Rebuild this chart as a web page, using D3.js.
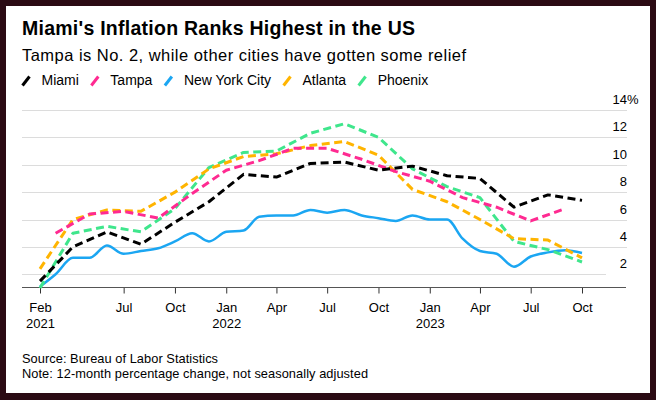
<!DOCTYPE html>
<html lang="en">
<head>
<meta charset="UTF-8">
<title>Miami's Inflation Ranks Highest in the US</title>
<script src="https://cdn.jsdelivr.net/npm/d3@7"></script>
<style>
  body { margin: 0; background: #2b0b14; }
  svg { display: block; font-family: "Liberation Sans", Arial, Helvetica, sans-serif; }
</style>
</head>
<body>
<script>
// bimonthly cities, even months from Feb 2021
var evenMonths = ["2021-02","2021-04","2021-06","2021-08","2021-10","2021-12",
                  "2022-02","2022-04","2022-06","2022-08","2022-10","2022-12",
                  "2023-02","2023-04","2023-06","2023-08","2023-10"];
// Tampa reports in odd months
var oddMonths = ["2021-03","2021-05","2021-07","2021-09","2021-11",
                 "2022-01","2022-03","2022-05","2022-07","2022-09","2022-11",
                 "2023-01","2023-03","2023-05","2023-07","2023-09"];
// New York monthly, Feb 2021 .. Oct 2023
var nycMonths = ["2021-02","2021-03","2021-04","2021-05","2021-06","2021-07","2021-08","2021-09","2021-10","2021-11","2021-12",
                 "2022-01","2022-02","2022-03","2022-04","2022-05","2022-06","2022-07","2022-08","2022-09","2022-10","2022-11","2022-12",
                 "2023-01","2023-02","2023-03","2023-04","2023-05","2023-06","2023-07","2023-08","2023-09","2023-10"];

var miami   = [1.5, 4.0, 5.1, 4.2, 5.8, 7.3, 9.3, 9.1, 10.1, 10.2, 9.6, 9.9, 9.2, 9.0, 6.9, 7.8, 7.4];
var tampa   = [5.0, 6.4, 6.6, 6.1, 7.9, 9.6, 10.3, 11.2, 11.2, 10.4, 9.5, 8.8, 7.6, 6.9, 5.9, 6.8];
var nyc     = [1.1, 2.0, 3.2, 3.2, 4.1, 3.5, 3.7, 3.9, 4.4, 5.0, 4.4,
               5.1, 5.2, 6.2, 6.3, 6.3, 6.7, 6.5, 6.7, 6.3, 6.1, 5.9, 6.3,
               6.0, 6.0, 4.6, 3.7, 3.5, 2.55, 3.3, 3.6, 3.75, 3.55];
var atlanta = [2.4, 6.0, 6.7, 6.6, 8.0, 9.7, 10.6, 10.8, 11.4, 11.7, 10.7, 8.2, 7.3, 6.0, 4.6, 4.5, 3.2];
var phoenix = [1.0, 5.0, 5.5, 5.1, 6.8, 9.8, 10.9, 11.0, 12.3, 13.0, 12.0, 9.7, 8.4, 7.6, 4.4, 3.8, 2.9];

var xTicks = ["2021-02","2021-07","2021-10","2022-01","2022-04","2022-07","2022-10","2023-01","2023-04","2023-07","2023-10"];
var yTicks = [2, 4, 6, 8, 10, 12, 14];

var width = 656, height = 400;
var parse = d3.timeParse("%Y-%m");

var series = [
  {name: "New York City", color: "#1ba6f2", months: nycMonths, values: nyc, dash: null},
  {name: "Phoenix", color: "#3fe68c", months: evenMonths, values: phoenix, dash: "8,4.5"},
  {name: "Atlanta", color: "#ffb400", months: evenMonths, values: atlanta, dash: "8,4.5"},
  {name: "Tampa", color: "#ff2a91", months: oddMonths, values: tampa, dash: "8,4.5"},
  {name: "Miami", color: "#000000", months: evenMonths, values: miami, dash: "8,4.5"}
];
var legendOrder = ["Miami", "Tampa", "New York City", "Atlanta", "Phoenix"];

var svg = d3.select("body").append("svg")
  .attr("width", width).attr("height", height);

svg.append("rect")
  .attr("x", 6).attr("y", 6)
  .attr("width", 644).attr("height", 387)
  .attr("fill", "#ffffff");

var x = d3.scaleTime()
  .domain([parse("2021-02"), parse("2023-10")])
  .range([40, 582]);
var y = d3.scaleLinear()
  .domain([1.05, 14])
  .range([287.3, 110]);

// title block
svg.append("text")
  .attr("x", 22).attr("y", 34.5)
  .attr("font-size", 19.5).attr("font-weight", "bold").attr("fill", "#000")
  .attr("textLength", 393).attr("lengthAdjust", "spacing")
  .text("Miami's Inflation Ranks Highest in the US");
svg.append("text")
  .attr("x", 22).attr("y", 61)
  .attr("font-size", 16.5).attr("fill", "#000")
  .attr("textLength", 444).attr("lengthAdjust", "spacing")
  .text("Tampa is No. 2, while other cities have gotten some relief");

// legend
var lx = 22;
legendOrder.forEach(function(name) {
  var s = series.find(function(d) { return d.name === name; });
  svg.append("line")
    .attr("x1", lx + 0.5).attr("y1", 85.5)
    .attr("x2", lx + 7.5).attr("y2", 76.5)
    .attr("stroke", s.color).attr("stroke-width", 3);
  var t = svg.append("text")
    .attr("x", lx + 19.5).attr("y", 85)
    .attr("font-size", 14).attr("fill", "#000")
    .text(name);
  lx = lx + 19.5 + t.node().getComputedTextLength() + 12;
});

// gridlines and y labels
var grid = svg.append("g");
grid.selectAll("line").data(yTicks).enter().append("line")
  .attr("x1", 22)
  .attr("x2", function(d) { return d === 2 ? 606 : 627; })
  .attr("y1", function(d) { return Math.round(y(d)) + 0.5; })
  .attr("y2", function(d) { return Math.round(y(d)) + 0.5; })
  .attr("stroke", "#dcdcdc").attr("stroke-width", 1);

grid.selectAll("text").data(yTicks).enter().append("text")
  .attr("x", 627)
  .attr("y", function(d) { return y(d) - 6; })
  .attr("text-anchor", "end")
  .attr("font-size", 13).attr("fill", "#000")
  .text(function(d) { return d; })
  .filter(function(d) { return d === 14; })
  .append("tspan").text("%");
// pull the percent sign out past the column edge
grid.selectAll("text").filter(function(d) { return d === 14; })
  .attr("text-anchor", "start")
  .attr("x", function() { return 627 - this.firstChild.nodeValue.length * 7.23; });

// x axis
var xAxis = d3.axisBottom(x)
  .tickValues(xTicks.map(parse))
  .tickSize(6)
  .tickSizeOuter(0)
  .tickFormat(d3.timeFormat("%b"));

var gx = svg.append("g")
  .attr("transform", "translate(0,287.5)")
  .call(xAxis);
gx.select(".domain").remove();
gx.selectAll(".tick line").attr("stroke", "#333");
gx.selectAll(".tick text")
  .attr("font-size", 13).attr("fill", "#000")
  .attr("font-family", "'Liberation Sans', Arial, sans-serif")
  .attr("dy", 0).attr("y", 24);
gx.selectAll(".tick")
  .filter(function(d) { return d.getMonth() === 0 || +d === +parse("2021-02"); })
  .append("text")
  .attr("y", 40.5).attr("fill", "#000")
  .attr("font-size", 13).attr("text-anchor", "middle")
  .attr("font-family", "'Liberation Sans', Arial, sans-serif")
  .text(function(d) { return d.getFullYear(); });

svg.append("line")
  .attr("x1", 22).attr("x2", 626)
  .attr("y1", 287.5).attr("y2", 287.5)
  .attr("stroke", "#555").attr("stroke-width", 1);

// lines
var line = d3.line()
  .x(function(d) { return x(d.date); })
  .y(function(d) { return y(d.value); });

series.forEach(function(s) {
  var pts = s.months.map(function(m, i) { return {date: parse(m), value: s.values[i]}; });
  svg.append("path")
    .datum(pts)
    .attr("fill", "none")
    .attr("stroke", s.color)
    .attr("stroke-width", s.dash ? 3 : 2.5)
    .attr("stroke-linejoin", "round")
    .attr("stroke-dasharray", s.dash)
    .attr("d", line.curve(s.dash ? d3.curveLinear : d3.curveMonotoneX));
});

// footnotes
svg.append("text")
  .attr("x", 22).attr("y", 363)
  .attr("font-size", 12.8).attr("fill", "#000")
  .attr("textLength", 196).attr("lengthAdjust", "spacing")
  .text("Source: Bureau of Labor Statistics");
svg.append("text")
  .attr("x", 22).attr("y", 377.5)
  .attr("font-size", 12.8).attr("fill", "#000")
  .attr("textLength", 346).attr("lengthAdjust", "spacing")
  .text("Note: 12-month percentage change, not seasonally adjusted");
</script>
</body>
</html>
